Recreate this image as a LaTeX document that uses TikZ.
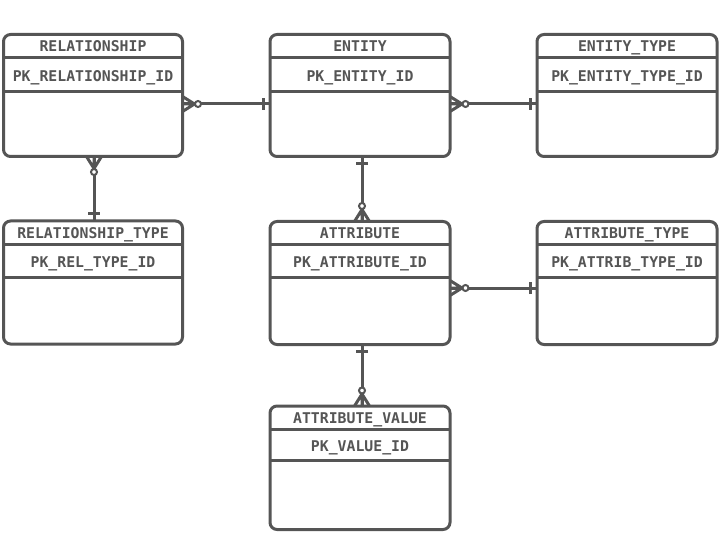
\documentclass[tikz,border=0pt]{standalone}
\usepackage{fontspec}
\setmonofont{DejaVu Sans Mono}
\usetikzlibrary{calc}
\definecolor{ink}{HTML}{555555}
\tikzset{
  tbl/.style={draw=ink, line width=3pt, rounded corners=7pt, inner sep=0pt, outer sep=0pt, fill=white},
  sep/.style={draw=ink, line width=3pt},
  ttl/.style={text=ink, font=\fontsize{14.8}{16}\selectfont\ttfamily\bfseries, anchor=base, inner sep=0pt},
  conn/.style={draw=ink, line width=3pt},
  ring/.style={draw=ink, line width=2pt, fill=white},
}
% #1 name, #2 left, #3 top, #4 width, #5 height, #6 band1, #7 band2, #8 title, #9 pk
\newcommand\ertable[9]{%
  \node[tbl, minimum width=#4pt, minimum height=#5pt, anchor=north west] (#1) at (#2,#3) {};
  \draw[sep] ([yshift=-#6pt]#1.north west) -- ([yshift=-#6pt]#1.north east);
  \draw[sep] ([yshift={-(#6+#7)*1pt}]#1.north west) -- ([yshift={-(#6+#7)*1pt}]#1.north east);
  \node[ttl] (#1-t) at ([yshift={-(#6/2+5.5)*1pt}]#1.north) {#8};
  \node[ttl] (#1-k) at ([yshift={-(#6+#7/2+6.5)*1pt}]#1.north) {#9};
}
% crow's foot with ring: #1 point on box edge, #2 angle (outward direction)
\newcommand\crow[2]{%
  \begin{scope}[shift={(#1)}, rotate=#2]
    \draw[conn] (12,0) -- (0,7.5) (12,0) -- (0,0) (12,0) -- (0,-7.5);
    \draw[ring] (15.5,0) circle[radius=3];
  \end{scope}}
% bar: #1 point on box edge, #2 angle (outward direction)
\newcommand\onebar[2]{%
  \begin{scope}[shift={(#1)}, rotate=#2]
    \draw[conn] (7,-6) -- (7,6);
  \end{scope}}
\begin{document}
\begin{tikzpicture}[x=1pt,y=-1pt]
\useasboundingbox (0,0) rectangle (720,540);
\ertable{rel}{3.5}{34.5}{179}{122}{23}{34.5}{RELATIONSHIP}{PK\_RELATIONSHIP\_ID}
\ertable{ent}{270}{34.5}{180}{122}{23}{34.5}{ENTITY}{PK\_ENTITY\_ID}
\ertable{etype}{537}{34.5}{180}{122}{23}{34.5}{ENTITY\_TYPE}{PK\_ENTITY\_TYPE\_ID}
\ertable{rtype}{3.5}{221}{179}{123}{23.5}{33}{RELATIONSHIP\_TYPE}{PK\_REL\_TYPE\_ID}
\ertable{attr}{270}{221.5}{180}{123}{23}{33}{ATTRIBUTE}{PK\_ATTRIBUTE\_ID}
\ertable{atype}{537}{221.5}{180}{123}{23}{33}{ATTRIBUTE\_TYPE}{PK\_ATTRIB\_TYPE\_ID}
\ertable{aval}{270}{406}{180}{123.5}{23}{31}{ATTRIBUTE\_VALUE}{PK\_VALUE\_ID}

% RELATIONSHIP -> ENTITY
\coordinate (a1) at ([yshift=-8.5pt]rel.east);
\coordinate (a2) at (a1 -| ent.west);
\draw[conn] (a1) -- (a2);
\crow{a1}{0}\onebar{a2}{180}
% ENTITY -> ENTITY_TYPE
\coordinate (b1) at ([yshift=-8.5pt]ent.east);
\coordinate (b2) at (b1 -| etype.west);
\draw[conn] (b1) -- (b2);
\crow{b1}{0}\onebar{b2}{180}
% RELATIONSHIP -> RELATIONSHIP_TYPE
\coordinate (c1) at ([xshift=1pt]rel.south);
\coordinate (c2) at (c1 |- rtype.north);
\draw[conn] (c1) -- (c2);
\crow{c1}{-90}\onebar{c2}{90}
% ENTITY -> ATTRIBUTE
\coordinate (d1) at ([xshift=2pt]ent.south);
\coordinate (d2) at (d1 |- attr.north);
\draw[conn] (d1) -- (d2);
\crow{d2}{90}\onebar{d1}{-90}
% ATTRIBUTE -> ATTRIBUTE_TYPE
\coordinate (e1) at ([yshift=-5pt]attr.east);
\coordinate (e2) at (e1 -| atype.west);
\draw[conn] (e1) -- (e2);
\crow{e1}{0}\onebar{e2}{180}
% ATTRIBUTE -> ATTRIBUTE_VALUE
\coordinate (f1) at ([xshift=2pt]attr.south);
\coordinate (f2) at (f1 |- aval.north);
\draw[conn] (f1) -- (f2);
\crow{f2}{90}\onebar{f1}{-90}
\end{tikzpicture}
\end{document}
